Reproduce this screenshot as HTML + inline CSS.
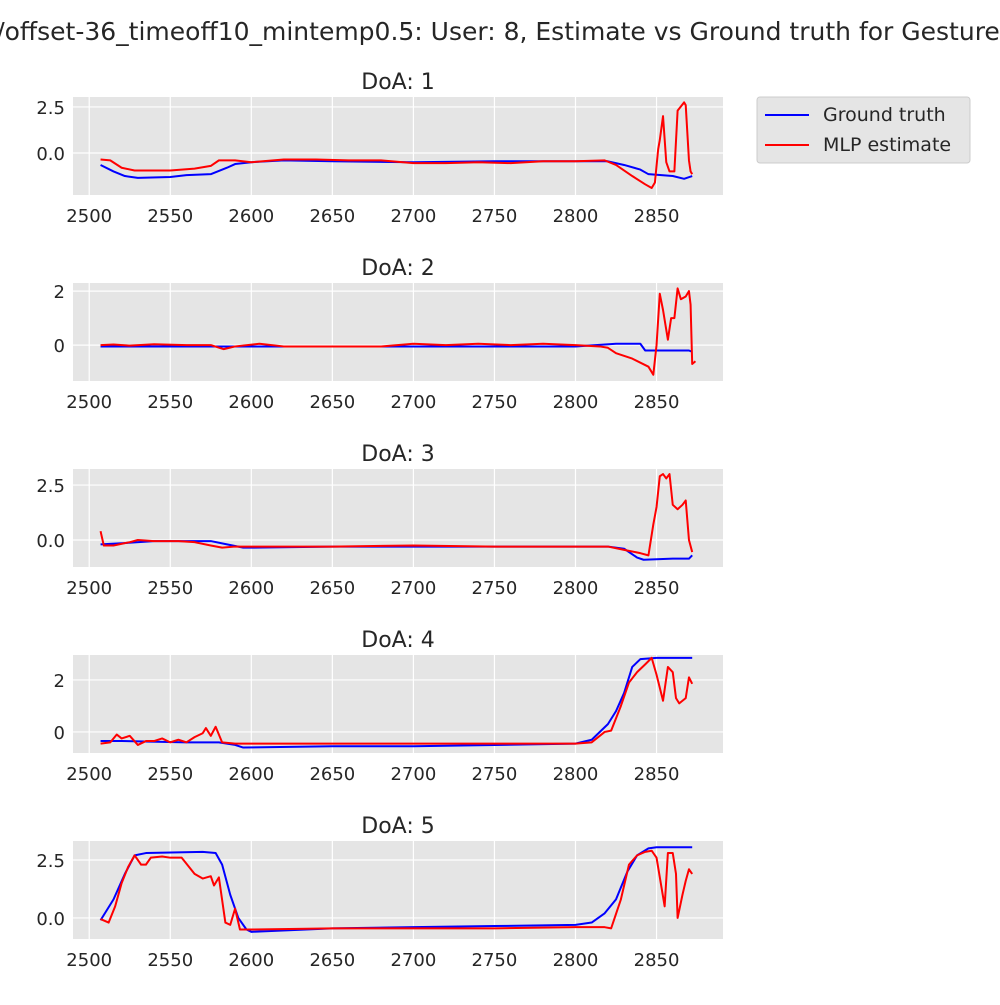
<!DOCTYPE html>
<html><head><meta charset="utf-8"><style>
body{margin:0;background:#fff;}
svg text{font-family:"DejaVu Sans","Liberation Sans",sans-serif;fill:#262626;}
</style></head><body>
<svg id="chart" width="1000" height="1000" viewBox="0 0 1000 1000">
<text x="498" y="40" font-size="25" text-anchor="middle">/offset-36_timeoff10_mintemp0.5: User: 8, Estimate vs Ground truth for Gesture</text>
<g>
<rect x="757" y="97" width="213" height="66" rx="3" fill="#e5e5e5" stroke="#ccc"/>
<line x1="765" y1="115" x2="809" y2="115" stroke="blue" stroke-width="2"/>
<text x="823" y="121" font-size="19">Ground truth</text>
<line x1="765" y1="145" x2="809" y2="145" stroke="red" stroke-width="2"/>
<text x="823" y="151" font-size="19">MLP estimate</text>
</g>
</svg>
<script>
const xTicks=[2500,2550,2600,2650,2700,2750,2800,2850];
const titles=["DoA: 1","DoA: 2","DoA: 3","DoA: 4","DoA: 5"];
const yTicks=[[0,2.5],[0,2],[0,2.5],[0,2],[0,2.5]];
const yTickLabels=[["0.0","2.5"],["0","2"],["0.0","2.5"],["0","2"],["0.0","2.5"]];
const yRanges=[[-2.28,3.04],[-1.33,2.30],[-1.23,3.23],[-0.81,2.96],[-0.91,3.32]];
const gtX1=[2507,2515,2522,2530,2550,2560,2575,2585,2590,2600,2620,2650,2700,2750,2800,2820,2830,2840,2845,2860,2867,2872];
const gtY1=[-0.65,-1.0,-1.25,-1.35,-1.3,-1.2,-1.15,-0.8,-0.6,-0.5,-0.4,-0.45,-0.5,-0.45,-0.45,-0.45,-0.65,-0.9,-1.15,-1.25,-1.4,-1.25];
const mlX1=[2507,2513,2520,2528,2550,2565,2575,2580,2590,2600,2620,2640,2660,2680,2700,2720,2740,2760,2780,2800,2818,2825,2835,2843,2847,2849,2851,2852,2854,2856,2858,2861,2863,2867,2868,2870,2871,2872];
const mlY1=[-0.35,-0.4,-0.8,-0.95,-0.95,-0.85,-0.7,-0.4,-0.4,-0.5,-0.35,-0.35,-0.4,-0.4,-0.55,-0.55,-0.5,-0.55,-0.45,-0.45,-0.4,-0.65,-1.25,-1.7,-1.9,-1.6,0.2,0.7,2.0,-0.5,-1.0,-1.0,2.3,2.75,2.6,-0.4,-1.0,-1.15];
const gtX2=[2507,2600,2700,2800,2825,2830,2840,2843,2860,2870,2872];
const gtY2=[-0.05,-0.05,-0.05,-0.05,0.05,0.05,0.05,-0.2,-0.2,-0.2,-0.25];
const mlX2=[2507,2515,2525,2540,2560,2575,2583,2590,2605,2620,2650,2680,2700,2720,2740,2760,2780,2800,2815,2820,2825,2835,2845,2848,2850,2852,2854,2857,2859,2861,2863,2865,2868,2870,2871,2872,2874];
const mlY2=[0,0.02,-0.02,0.03,0.0,0.0,-0.15,-0.05,0.05,-0.05,-0.05,-0.05,0.05,0.0,0.05,0.0,0.05,0.0,-0.05,-0.1,-0.3,-0.5,-0.8,-1.1,0.0,1.9,1.3,0.2,1.0,1.0,2.1,1.7,1.8,2.0,1.5,-0.7,-0.6];
const gtX3=[2507,2520,2540,2575,2585,2595,2600,2650,2700,2800,2820,2830,2838,2842,2860,2870,2872];
const gtY3=[-0.2,-0.15,-0.05,-0.05,-0.2,-0.35,-0.35,-0.3,-0.3,-0.3,-0.3,-0.4,-0.8,-0.9,-0.85,-0.85,-0.7];
const mlX3=[2507,2509,2515,2525,2530,2540,2555,2565,2575,2582,2590,2600,2650,2700,2750,2800,2820,2830,2840,2845,2848,2850,2852,2854,2856,2858,2860,2863,2866,2868,2870,2872];
const mlY3=[0.4,-0.25,-0.25,-0.1,0.0,-0.05,-0.05,-0.1,-0.25,-0.35,-0.3,-0.3,-0.3,-0.25,-0.3,-0.3,-0.3,-0.45,-0.6,-0.7,0.7,1.5,2.9,3.0,2.8,3.0,1.6,1.4,1.6,1.8,0.0,-0.55];
const gtX4=[2507,2520,2560,2580,2590,2595,2650,2700,2750,2800,2810,2820,2825,2830,2835,2840,2850,2872];
const gtY4=[-0.35,-0.35,-0.4,-0.4,-0.5,-0.6,-0.55,-0.55,-0.5,-0.45,-0.3,0.3,0.8,1.5,2.5,2.8,2.85,2.85];
const mlX4=[2507,2513,2517,2520,2525,2530,2535,2540,2545,2550,2555,2560,2565,2570,2572,2575,2578,2582,2590,2600,2650,2700,2750,2800,2810,2818,2822,2828,2833,2838,2843,2847,2850,2854,2857,2860,2862,2864,2868,2870,2872];
const mlY4=[-0.45,-0.4,-0.1,-0.25,-0.15,-0.5,-0.35,-0.35,-0.25,-0.4,-0.3,-0.4,-0.2,-0.05,0.15,-0.15,0.2,-0.4,-0.45,-0.45,-0.45,-0.45,-0.45,-0.45,-0.4,0.0,0.05,1.0,1.9,2.3,2.6,2.85,2.2,1.2,2.5,2.3,1.3,1.1,1.3,2.1,1.85];
const gtX5=[2507,2515,2522,2528,2535,2570,2578,2582,2587,2592,2597,2600,2650,2700,2750,2800,2810,2818,2825,2832,2838,2845,2850,2872];
const gtY5=[-0.1,0.8,1.9,2.7,2.8,2.85,2.8,2.3,1.0,0.0,-0.5,-0.6,-0.45,-0.4,-0.35,-0.3,-0.2,0.2,0.8,2.0,2.7,3.0,3.05,3.05];
const mlX5=[2507,2512,2516,2520,2524,2528,2532,2535,2538,2545,2550,2557,2565,2570,2575,2577,2580,2584,2587,2590,2593,2600,2650,2700,2750,2800,2818,2822,2828,2833,2838,2843,2847,2850,2855,2857,2860,2862,2863,2866,2868,2870,2872];
const mlY5=[-0.05,-0.2,0.5,1.5,2.2,2.7,2.3,2.3,2.6,2.65,2.6,2.6,1.9,1.7,1.8,1.4,1.75,-0.2,-0.3,0.4,-0.5,-0.5,-0.45,-0.45,-0.45,-0.4,-0.4,-0.45,0.8,2.3,2.7,2.85,2.9,2.6,0.5,2.8,2.8,1.9,0.0,1.0,1.6,2.1,1.9];
const gtXs=[gtX1,gtX2,gtX3,gtX4,gtX5], gtYs=[gtY1,gtY2,gtY3,gtY4,gtY5];
const mlXs=[mlX1,mlX2,mlX3,mlX4,mlX5], mlYs=[mlY1,mlY2,mlY3,mlY4,mlY5];

const NS="http://www.w3.org/2000/svg";
const svg=document.getElementById('chart');
function mk(tag,attrs,parent){const e=document.createElementNS(NS,tag);for(const k in attrs)e.setAttribute(k,attrs[k]);(parent||svg).appendChild(e);return e;}
const L=73,R=723,H=98,X0=2490,X1=2891;
function sx(v){return L+(v-X0)/(X1-X0)*(R-L);}
for(let p=0;p<5;p++){
  const top=97+186*p, bot=top+H;
  const [ymin,ymax]=yRanges[p];
  const sy=v=>bot-(v-ymin)/(ymax-ymin)*H;
  const g=mk('g',{});
  
  
  const bg=mk('rect',{x:L,y:top,width:R-L,height:H,fill:'#e5e5e5'},g);
  
  
  xTicks.forEach(t=>{
    const gl=mk('line',{x1:sx(t),x2:sx(t),y1:top,y2:bot,stroke:'#fff','stroke-width':1.2},g);
    
    
    const tl=mk('text',{x:sx(t),y:bot+27,'font-size':18,'text-anchor':'middle'},g);
    tl.textContent=t;
    
    
  });
  yTicks[p].forEach((t,i)=>{
    const gl=mk('line',{x1:L,x2:R,y1:sy(t),y2:sy(t),stroke:'#fff','stroke-width':1.2},g);
    
    
    const tl=mk('text',{x:L-8,y:sy(t)+7,'font-size':18,'text-anchor':'end'},g);
    tl.textContent=yTickLabels[p][i];
    
    
  });
  const tt=mk('text',{x:(L+R)/2,y:top-8,'font-size':22,'text-anchor':'middle'},g);
  tt.textContent=titles[p];
  
  
  const gp=mk('polyline',{points:gtXs[p].map((x,i)=>sx(x)+','+sy(gtYs[p][i])).join(' '),fill:'none',stroke:'blue','stroke-width':2,'stroke-linejoin':'round'},g);
  
  
  const mp=mk('polyline',{points:mlXs[p].map((x,i)=>sx(x)+','+sy(mlYs[p][i])).join(' '),fill:'none',stroke:'red','stroke-width':2,'stroke-linejoin':'round'},g);
  
  
}
</script>
</body></html>
